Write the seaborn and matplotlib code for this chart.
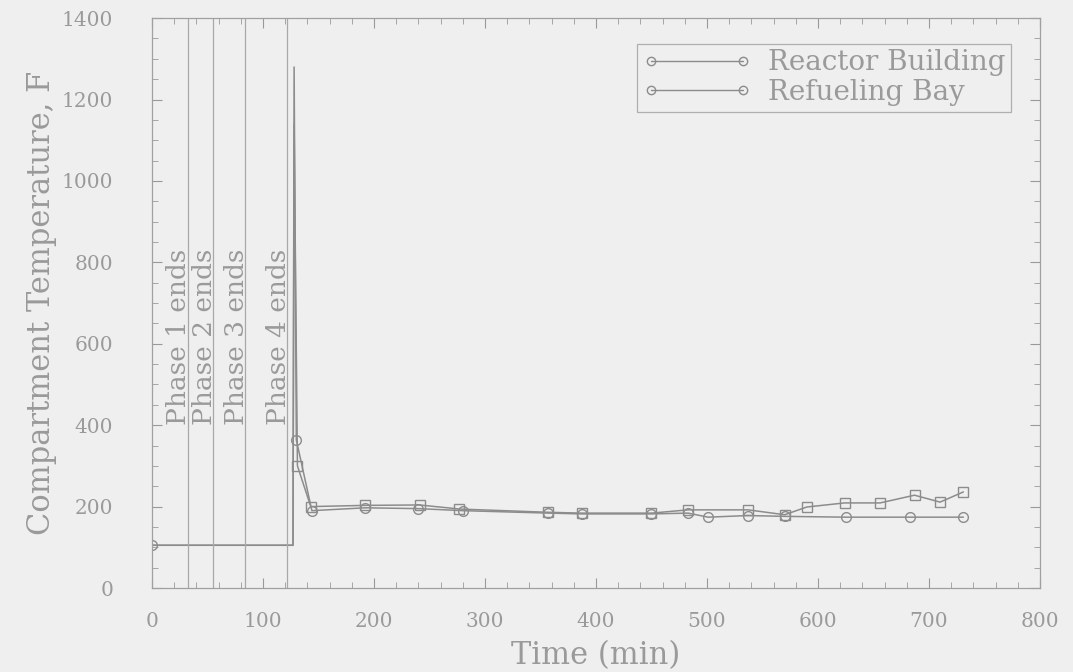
import matplotlib
matplotlib.use("Agg")
import matplotlib.pyplot as plt
from matplotlib.lines import Line2D
from matplotlib.ticker import MultipleLocator
import seaborn as sns
import pandas as pd

# ---- data ----
rb_time = [0, 127, 128, 130, 144, 192, 240, 280, 357, 387, 450, 483, 501, 537, 570, 625, 683, 731]
rb_temp = [105, 105, 1280, 364, 190, 197, 195, 190, 184, 182, 182, 184, 174, 178, 176, 174, 174, 174]

rf_time = [0, 127, 128, 131, 143, 192, 241, 277, 357, 387, 450, 483, 537, 570, 590, 624, 656, 687, 710, 731]
rf_temp = [105, 105, 1140, 300, 200, 203, 204, 194, 186, 184, 184, 192, 192, 180, 199, 209, 209, 228, 211, 236]

phase_times = [32, 55, 84, 122]
phase_labels = ["Phase 1 ends", "Phase 2 ends", "Phase 3 ends", "Phase 4 ends"]
series_names = ["Reactor Building", "Refueling Bay"]

x_ticks = [0, 100, 200, 300, 400, 500, 600, 700, 800]
y_ticks = [0, 200, 400, 600, 800, 1000, 1200, 1400]

sns.set_style("ticks")
plt.rcParams["font.family"] = ["DejaVu Serif"]

grey = "#8c8c8c"
text_grey = "#9a9a9a"
bg = "#efefef"

fig = plt.figure(figsize=(10.73, 6.72), dpi=100, facecolor=bg)
ax = fig.add_axes([0.1417, 0.125, 0.8275, 0.848])
ax.set_facecolor(bg)

df_rb = pd.DataFrame({"t": rb_time, "T": rb_temp})
df_rf = pd.DataFrame({"t": rf_time, "T": rf_temp})

rb_marks = [i for i in range(len(rb_time)) if i not in (1, 2)]
rf_marks = [i for i in range(len(rf_time)) if i not in (0, 1, 2)]

sns.lineplot(data=df_rb, x="t", y="T", ax=ax, sort=False, estimator=None,
             color=grey, lw=1.1, marker="o", markersize=7, markerfacecolor="none",
             markeredgecolor=grey, markeredgewidth=1.0, markevery=rb_marks)
sns.lineplot(data=df_rf, x="t", y="T", ax=ax, sort=False, estimator=None,
             color=grey, lw=1.1, marker="s", markersize=6.5, markerfacecolor="none",
             markeredgecolor=grey, markeredgewidth=1.0, markevery=rf_marks)

for t, lab in zip(phase_times, phase_labels):
    ax.axvline(t, color="#a8a8a8", lw=0.9)
    ax.text(t - 8, 400, lab, rotation=90, ha="center", va="bottom",
            fontsize=19, color=text_grey)

ax.set_xlim(0, 800)
ax.set_ylim(0, 1400)
ax.set_xticks(x_ticks)
ax.set_yticks(y_ticks)
ax.xaxis.set_minor_locator(MultipleLocator(20))
ax.yaxis.set_minor_locator(MultipleLocator(50))
ax.tick_params(which="both", direction="in", top=True, right=True,
               color="#999999", labelcolor=text_grey, labelsize=14.5)
ax.tick_params(which="major", length=7)
ax.tick_params(which="minor", length=4)
ax.tick_params(axis="x", pad=17)
ax.tick_params(axis="y", pad=28)
for s in ax.spines.values():
    s.set_color("#a0a0a0")
    s.set_linewidth(0.9)

ax.set_xlabel("Time (min)", fontsize=22, color=text_grey, labelpad=7)
ax.set_ylabel("Compartment Temperature, F", fontsize=22, color=text_grey, labelpad=3)

handles = [Line2D([0], [0], color=grey, lw=1.0, marker="o", markersize=6,
                  markerfacecolor="none", markeredgecolor=grey) for _ in series_names]
leg = ax.legend(handles, series_names, loc="upper right", numpoints=2,
                fontsize=20, frameon=True, fancybox=False, handlelength=3.9,
                handletextpad=0.6, bbox_to_anchor=(0.967, 0.955),
                borderaxespad=0.0, labelspacing=0.1, borderpad=0.2)
leg.get_frame().set_edgecolor("#a0a0a0")
leg.get_frame().set_facecolor(bg)
leg.get_frame().set_linewidth(0.9)
for txt in leg.get_texts():
    txt.set_color(text_grey)

fig.savefig("out.png", dpi=100, facecolor=bg)
